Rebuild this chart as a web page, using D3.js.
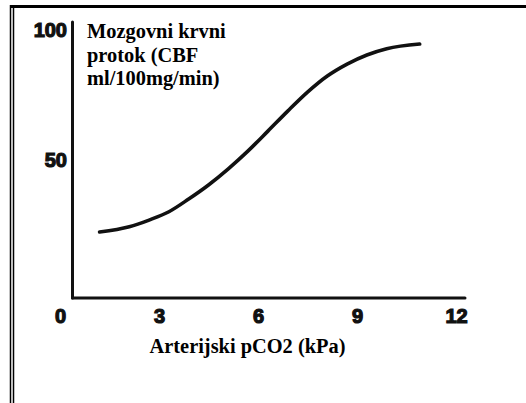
<!DOCTYPE html>
<html lang="en">
<head>
<meta charset="utf-8">
<title>Mozgovni krvni protok</title>
<style type="text/css">
body { margin: 0; background: #fff; }
.tick text
{
   font-family: "Liberation Sans", Arial, sans-serif;
   font-weight: bold;
   font-size: 20px;
   fill: #111;
   stroke: #111;
   stroke-width: 1.2;
}
</style>
<script type="text/javascript" src="https://cdn.jsdelivr.net/npm/d3@7"></script>
</head>

<body>

<script type="text/javascript">
var w = 526;
var h = 403;

// arterial pCO2 (kPa) and cerebral blood flow (ml/100mg/min)
var pco2 = [1.2, 2.1, 2.7, 3.3, 3.9, 4.5, 5.1, 5.7, 6.3, 6.9, 7.5, 8.1, 8.7, 9.3, 9.9, 10.9];
var cbf  = [22.3, 24.3, 26.9, 30.1, 35.0, 40.4, 46.6, 53.5, 61.1, 68.8, 76.1, 82.3, 86.9, 90.4, 92.8, 94.6];

var xTicks = [0, 3, 6, 9, 12];
var yTicks = [50, 100];
var yTitle = ["Mozgovni krvni", "protok (CBF", "ml/100mg/min)"];
var xTitle = "Arterijski pCO2 (kPa)";

var serif = "'Liberation Serif', 'Times New Roman', 'DejaVu Serif', serif";

var svg = d3.select("body")
            .append("svg")
            .attr("width", w)
            .attr("height", h);

// frame: thick top line, double line on the left
svg.append("line").attr("x1", 10).attr("y1", 6.5).attr("x2", w).attr("y2", 6.5)
   .attr("stroke", "#000").attr("stroke-width", 3);
svg.append("line").attr("x1", 10.5).attr("y1", 5).attr("x2", 10.5).attr("y2", h)
   .attr("stroke", "#000").attr("stroke-width", 1.5);
svg.append("line").attr("x1", 13.5).attr("y1", 8).attr("x2", 13.5).attr("y2", h)
   .attr("stroke", "#000").attr("stroke-width", 1.5);

var x = d3.scaleLinear().domain([0, 12]).range([60, 456]);
var y = d3.scaleLinear().domain([0, 100]).range([290, 30]);

// axis lines (hand drawn look: they don't start at the 0 label)
svg.append("line").attr("x1", 72.5).attr("y1", 22).attr("x2", 72.5).attr("y2", 298)
   .attr("stroke", "#111").attr("stroke-width", 3).attr("stroke-linecap", "round");
svg.append("line").attr("x1", 72.5).attr("y1", 298).attr("x2", 465).attr("y2", 298)
   .attr("stroke", "#111").attr("stroke-width", 3).attr("stroke-linecap", "round");

var yAxis = svg.append("g")
               .attr("transform", "translate(67,0)")
               .call(d3.axisLeft(y).tickValues(yTicks).tickSize(0).tickPadding(0));
var xAxis = svg.append("g")
               .attr("transform", "translate(0,298)")
               .call(d3.axisBottom(x).tickValues(xTicks).tickSize(0).tickPadding(10.5));
yAxis.select(".domain").remove();
xAxis.select(".domain").remove();
svg.selectAll("g").attr("font-family", null).attr("font-size", null);

var line = d3.line()
             .x(function(d, i){ return x(pco2[i]); })
             .y(function(d){ return y(d); })
             .curve(d3.curveMonotoneX);

svg.append("path")
   .attr("d", line(cbf))
   .attr("fill", "none")
   .attr("stroke", "#111")
   .attr("stroke-width", 3.6)
   .attr("stroke-linecap", "round");

svg.append("text")
   .attr("font-family", serif)
   .attr("font-weight", "bold")
   .attr("font-size", "20.4px")
   .selectAll("tspan")
   .data(yTitle)
   .enter()
   .append("tspan")
   .attr("x", 87)
   .attr("y", function(d, i){ return 38 + i * 23.5; })
   .text(function(d){ return d; });

svg.append("text")
   .attr("font-family", serif)
   .attr("font-weight", "bold")
   .attr("font-size", "20.4px")
   .attr("x", 247.5)
   .attr("y", 353)
   .attr("text-anchor", "middle")
   .text(xTitle);
</script>
</body>
</html>
